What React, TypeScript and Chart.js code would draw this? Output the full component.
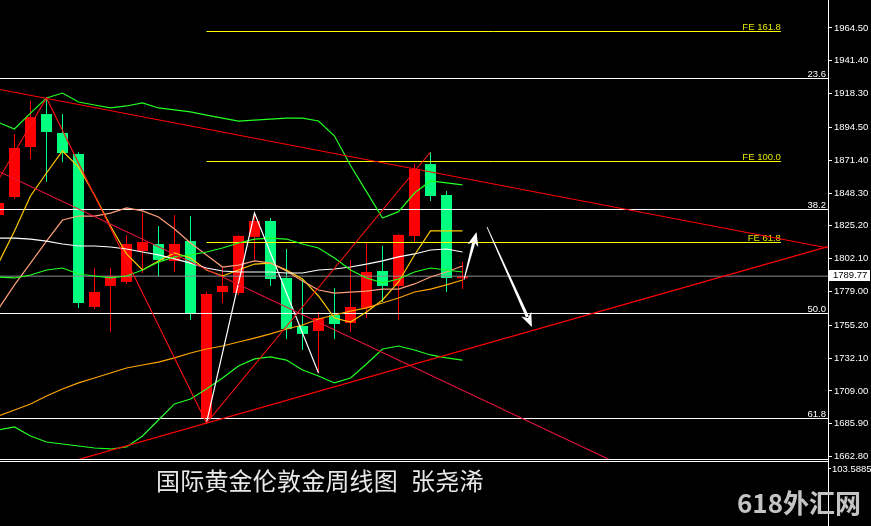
import React, { useEffect, useRef } from 'react';
import { Chart, registerables } from 'chart.js';

Chart.register(...registerables);

// ---- weekly candles (index -1 .. 28) ----
const candleIndex = [-1, 0, 1, 2, 3, 4, 5, 6, 7, 8, 9, 10, 11, 12, 13, 14, 15, 16, 17, 18, 19, 20, 21, 22, 23, 24, 25, 26, 27, 28];
const opens = [1832.8, 1845.5, 1880.7, 1903.9, 1890.6, 1875.8, 1768.1, 1782.9, 1785.7, 1807.5, 1812.4, 1800.4, 1814.5, 1689.9, 1778.6, 1777.9, 1817.4, 1828.6, 1788.5, 1754.7, 1751.2, 1762.4, 1756.8, 1767.4, 1793.4, 1782.9, 1818.1, 1868.7, 1846.9, 1788.3];
const highs = [1843.5, 1889.9, 1913.1, 1915.2, 1903.9, 1877.0, 1795.5, 1795.5, 1818.8, 1834.2, 1825.1, 1832.8, 1832.1, 1779.0, 1796.2, 1818.8, 1834.2, 1830.7, 1808.9, 1787.8, 1764.5, 1781.4, 1801.2, 1813.1, 1811.0, 1819.5, 1868.7, 1877.2, 1849.7, 1799.7];
const lows = [1830.0, 1844.1, 1872.3, 1856.1, 1870.2, 1767.4, 1766.7, 1750.5, 1784.3, 1792.0, 1789.9, 1792.7, 1758.9, 1686.4, 1770.9, 1776.5, 1801.9, 1782.9, 1745.5, 1737.8, 1721.6, 1745.5, 1750.5, 1760.3, 1771.6, 1758.9, 1813.1, 1842.7, 1778.6, 1780.7];
const closes = [1841.3, 1880.0, 1901.8, 1891.3, 1876.5, 1770.9, 1778.6, 1789.9, 1812.4, 1813.8, 1801.2, 1812.4, 1763.8, 1777.2, 1782.9, 1818.1, 1828.6, 1787.8, 1752.6, 1749.1, 1760.3, 1756.1, 1768.1, 1792.7, 1782.9, 1818.8, 1865.2, 1846.2, 1788.5, 1789.77];

// ---- indicators ----
const bbUpper = [1898.0, 1893.4, 1904.6, 1915.2, 1918.7, 1912.4, 1910.3, 1908.2, 1909.6, 1911.7, 1908.2, 1906.8, 1905.4, 1903.2, 1901.1, 1899.0, 1899.7, 1900.4, 1901.1, 1901.1, 1899.0, 1888.4, 1867.7, 1849.3, 1830.7, 1835.2, 1848.3, 1856.8, 1855.4, 1854.0];
const bbMiddle = [1789.2, 1788.5, 1790.6, 1794.1, 1795.5, 1791.3, 1789.9, 1788.5, 1789.9, 1794.1, 1799.7, 1803.3, 1804.7, 1806.8, 1809.6, 1813.1, 1815.9, 1816.6, 1815.9, 1812.4, 1809.6, 1802.6, 1794.1, 1788.5, 1785.0, 1787.8, 1792.7, 1795.5, 1794.1, 1792.7];
const bbLower = [1681.5, 1683.6, 1677.2, 1673.0, 1671.6, 1670.2, 1668.8, 1668.1, 1669.5, 1677.2, 1688.5, 1699.8, 1703.3, 1710.3, 1718.1, 1726.5, 1731.5, 1732.9, 1730.7, 1723.7, 1719.5, 1714.6, 1718.1, 1727.9, 1738.5, 1740.6, 1737.8, 1734.3, 1732.2, 1730.7];
const maWhite = [1816.6, 1816.6, 1815.9, 1814.5, 1812.4, 1811.0, 1811.0, 1810.3, 1808.9, 1806.8, 1804.7, 1801.9, 1799.0, 1795.5, 1793.4, 1792.7, 1792.7, 1792.7, 1792.0, 1792.0, 1794.1, 1794.8, 1796.2, 1798.3, 1800.5, 1803.3, 1805.4, 1808.2, 1808.9, 1806.8];
const maSalmon = [1766.7, 1783.6, 1799.0, 1814.5, 1829.3, 1832.1, 1832.1, 1834.2, 1837.8, 1835.7, 1831.4, 1823.0, 1813.1, 1804.7, 1796.2, 1797.6, 1800.5, 1799.0, 1793.4, 1786.4, 1780.0, 1777.9, 1778.6, 1779.3, 1780.7, 1780.7, 1784.3, 1789.2, 1792.7, 1796.9];
const maOrange = [1691.3, 1695.5, 1699.8, 1705.4, 1710.3, 1714.6, 1718.1, 1721.6, 1725.1, 1727.2, 1729.3, 1732.2, 1735.7, 1738.5, 1740.6, 1743.4, 1746.2, 1749.1, 1752.6, 1755.4, 1759.6, 1762.4, 1765.2, 1767.4, 1770.9, 1774.4, 1778.6, 1780.7, 1783.6, 1787.1];
const maYellow = [1799.0, 1821.6, 1846.2, 1862.4, 1877.9, 1866.6, 1846.9, 1825.1, 1805.4, 1794.1, 1800.5, 1806.1, 1802.6, 1794.1, 1789.9, 1794.1, 1798.3, 1799.0, 1794.1, 1787.8, 1775.8, 1760.3, 1757.5, 1764.5, 1773.0, 1785.7, 1804.7, 1821.6, 1821.6, 1821.6];

// ---- zigzags & trend lines (index, price) ----
const zigRedIdx = [-3, 2, 12, 26];
const zigRedVal = [1819.5, 1915.2, 1686.4, 1877.2];
const zigWhiteIdx = [12, 15, 19];
const zigWhiteVal = [1686.4, 1834.2, 1721.6];
const trendUpperIdx = [-0.906, 50.84];
const trendUpperVal = [1921.2, 1809.6];
const trendLowerIdx = [-0.906, 50.84];
const trendLowerVal = [1645.0, 1810.6];
const channelIdx = [-0.906, 50.84];
const channelVal = [1863.1, 1588.0];

// ---- levels ----
const fibLabels = ['23.6', '38.2', '50.0', '61.8'];
const fibValues = [1928.94, 1836.71, 1763.49, 1689.55];
const feLabels = ['FE 161.8', 'FE 100.0', 'FE 61.8'];
const feValues = [1962.03, 1870.5, 1813.47];
const feStartIdx = 12;
const feEndIdx = 47.9;
const lastPrice = 1789.77;
const subPanelLabel = '103.5885';

// ---- arrows ----
const arrowFromIdx = [28.09, 29.53];
const arrowFromVal = [1787.1, 1824.38];
const arrowToIdx = [28.875, 32.34];
const arrowToVal = [1820.86, 1753.98];

// ---- axis ----
const tickValues = [1964.5, 1941.4, 1918.3, 1894.5, 1871.4, 1848.3, 1825.2, 1802.1, 1779.0, 1755.2, 1732.1, 1709.0, 1685.9, 1662.8];
const yMax = 1984.21;
const yMin = 1661.04;
const xMin = -0.90625;
const xMax = 50.84375;

const TITLE_MAIN = '国际黄金伦敦金周线图';
const TITLE_AUTHOR = '张尧浠';
const WATERMARK = '618外汇网';

const FONT_FAMILY = '"Liberation Sans", Arial, sans-serif';
const AXIS_FONT = '9.5px ' + FONT_FAMILY;

function drawArrow(ctx: CanvasRenderingContext2D, x1: number, y1: number, x2: number, y2: number) {
  const ang = Math.atan2(y2 - y1, x2 - x1);
  const len = Math.hypot(x2 - x1, y2 - y1);
  const headLen = 14;
  const headW = 5.5;
  ctx.save();
  ctx.translate(x1, y1);
  ctx.rotate(ang);
  ctx.fillStyle = '#ffffff';
  ctx.beginPath();
  ctx.moveTo(0, -0.4);
  ctx.lineTo(len - headLen + 3, -1.6);
  ctx.lineTo(len - headLen + 3, 1.6);
  ctx.lineTo(0, 0.4);
  ctx.closePath();
  ctx.fill();
  ctx.beginPath();
  ctx.moveTo(len, 0);
  ctx.lineTo(len - headLen, -headW);
  ctx.lineTo(len - headLen + 4, 0);
  ctx.lineTo(len - headLen, headW);
  ctx.closePath();
  ctx.fill();
  ctx.restore();
}

const overlayPlugin = {
  id: 'overlayPlugin',
  beforeDatasetsDraw(chart: any) {
    const { ctx, scales, chartArea } = chart;
    const x = scales.x;
    const y = scales.y;
    ctx.save();
    ctx.font = AXIS_FONT;
    ctx.textAlign = 'right';
    ctx.textBaseline = 'alphabetic';
    fibLabels.forEach((t, i) => {
      const py = y.getPixelForValue(fibValues[i]);
      ctx.fillStyle = '#ffffff';
      ctx.fillText(t, chartArea.right - 2, Math.floor(py) - 1);
    });
    feLabels.forEach((t, i) => {
      const py = y.getPixelForValue(feValues[i]);
      ctx.fillStyle = '#e6e600';
      ctx.fillText(t, x.getPixelForValue(feEndIdx), Math.floor(py) - 1);
    });
    ctx.restore();
  },
  afterDatasetsDraw(chart: any) {
    const { ctx, scales } = chart;
    const x = scales.x;
    const y = scales.y;
    arrowFromIdx.forEach((_, i) => {
      drawArrow(
        ctx,
        x.getPixelForValue(arrowFromIdx[i]),
        y.getPixelForValue(arrowFromVal[i]),
        x.getPixelForValue(arrowToIdx[i]),
        y.getPixelForValue(arrowToVal[i])
      );
    });
  },
  afterDraw(chart: any) {
    const { ctx, chartArea, scales, height } = chart;
    const y = scales.y;
    ctx.save();
    ctx.fillStyle = '#ffffff';
    const b = Math.round(chartArea.bottom);
    const r = Math.round(chartArea.right);
    ctx.fillRect(0, b, r, 1);
    ctx.fillRect(0, b + 2, r, 1);
    ctx.fillRect(r, 0, 1, height);
    // current price box
    const py = y.getPixelForValue(lastPrice);
    ctx.fillRect(r + 1, Math.round(py) - 6, 41, 11);
    ctx.fillStyle = '#000000';
    ctx.font = AXIS_FONT;
    ctx.textAlign = 'left';
    ctx.textBaseline = 'middle';
    ctx.fillText(lastPrice.toFixed(2), r + 5, Math.round(py) - 0.5);
    // sub panel label
    ctx.fillStyle = '#ffffff';
    ctx.fillText(subPanelLabel, r + 4, b + 10);
    ctx.fillRect(r, b + 9, 3, 1);
    ctx.restore();
  },
};

function lineDs(label: string, data: { x: number; y: number }[], color: string, order = 1, width = 1) {
  return {
    type: 'line' as const,
    label,
    data,
    borderColor: color,
    backgroundColor: color,
    borderWidth: width,
    pointRadius: 0,
    tension: 0,
    fill: false,
    order,
  };
}

const series = (vals: number[]) => vals.map((v, i) => ({ x: candleIndex[i], y: v }));
const pairs = (idx: number[], vals: number[]) => idx.map((v, i) => ({ x: v, y: vals[i] }));

export default function App() {
  const canvasRef = useRef<HTMLCanvasElement | null>(null);

  useEffect(() => {
    if (!canvasRef.current) return;
    const up = candleIndex.map((_, i) => closes[i] >= opens[i]);
    const colors = up.map((u) => (u ? '#ff0000' : '#00ff7f'));

    const datasets: any[] = [];
    // levels
    fibValues.forEach((v, i) =>
      datasets.push(lineDs('fib ' + fibLabels[i], [{ x: xMin - 1, y: v }, { x: xMax + 1, y: v }], '#ffffff', 3))
    );
    feValues.forEach((v, i) =>
      datasets.push(lineDs(feLabels[i], [{ x: feStartIdx, y: v }, { x: feEndIdx, y: v }], '#ffff00', 3))
    );
    datasets.push(lineDs('last', [{ x: xMin - 1, y: lastPrice }, { x: xMax + 1, y: lastPrice }], '#8c8c96', 4));
    // indicators
    datasets.push(lineDs('BB upper', series(bbUpper), '#22ff22', 2, 1.2));
    datasets.push(lineDs('BB middle', series(bbMiddle), '#22ff22', 2, 1.2));
    datasets.push(lineDs('BB lower', series(bbLower), '#22ff22', 2, 1.2));
    datasets.push(lineDs('MA white', series(maWhite), '#ffffff', 2, 1.2));
    datasets.push(lineDs('MA salmon', series(maSalmon), '#ffa07a', 2, 1.2));
    datasets.push(lineDs('MA orange', series(maOrange), '#ffa500', 2, 1.2));
    datasets.push(lineDs('MA yellow', series(maYellow), '#ffcc00', 2, 1.2));
    // zigzags & trend lines
    datasets.push(lineDs('trend upper', pairs(trendUpperIdx, trendUpperVal), '#ff0000', 1, 1.2));
    datasets.push(lineDs('trend lower', pairs(trendLowerIdx, trendLowerVal), '#ff0000', 1, 1.2));
    datasets.push(lineDs('channel', pairs(channelIdx, channelVal), '#e8143c', 1, 1.1));
    datasets.push(lineDs('zigzag red', pairs(zigRedIdx, zigRedVal), '#ff1010', 1, 1.1));
    datasets.push(lineDs('zigzag white', pairs(zigWhiteIdx, zigWhiteVal), '#ffffff', 1, 1.2));
    // candles
    datasets.push({
      type: 'bar',
      label: 'wicks',
      data: candleIndex.map((k, i) => ({ x: k, y: [lows[i], highs[i]] })),
      backgroundColor: colors,
      borderWidth: 0,
      barThickness: 1,
      grouped: false,
      inflateAmount: 0,
      order: 20,
    });
    datasets.push({
      type: 'bar',
      label: 'bodies',
      data: candleIndex.map((k, i) => ({ x: k, y: [Math.min(opens[i], closes[i]), Math.max(opens[i], closes[i])] })),
      backgroundColor: colors,
      borderWidth: 0,
      barThickness: 11,
      grouped: false,
      inflateAmount: 0,
      minBarLength: 2,
      order: 19,
    });

    const chart = new Chart(canvasRef.current, {
      type: 'line',
      data: { datasets },
      options: {
        responsive: false,
        animation: false,
        devicePixelRatio: 1,
        events: [],
        layout: { padding: { left: 0, right: 0, top: 0, bottom: 67 } },
        plugins: { legend: { display: false }, tooltip: { enabled: false }, title: { display: false } },
        scales: {
          x: { type: 'linear', display: false, min: xMin, max: xMax, offset: false },
          y: {
            type: 'linear',
            position: 'right',
            min: yMin,
            max: yMax,
            afterBuildTicks: (s: any) => {
              s.ticks = tickValues.map((v) => ({ value: v }));
            },
            afterFit: (s: any) => {
              s.width = 43;
              s.paddingTop = 0;
              s.paddingBottom = 0;
            },
            ticks: {
              color: '#ffffff',
              font: { family: FONT_FAMILY, size: 9.5 },
              padding: 2,
              autoSkip: false,
              callback: (v: any) => Number(v).toFixed(2),
            },
            grid: { drawOnChartArea: false, drawTicks: true, tickLength: 4, color: '#ffffff' },
            border: { display: true, color: '#ffffff', width: 1 },
          },
        },
      } as any,
      plugins: [overlayPlugin],
    } as any);
    return () => chart.destroy();
  }, []);

  return (
    <div style={{ position: 'fixed', left: 0, top: 0, width: 871, height: 526, background: '#000', overflow: 'hidden' }}>
      <canvas ref={canvasRef} width={871} height={526} style={{ position: 'absolute', left: 0, top: 0, width: 871, height: 526 }} />
      <div
        style={{
          position: 'absolute',
          left: 156,
          top: 468,
          fontFamily: '"Noto Sans CJK SC", sans-serif',
          fontSize: 24,
          lineHeight: '24px',
          letterSpacing: '0.2px',
          color: '#e8e8e8',
          whiteSpace: 'pre',
        }}
      >
        {TITLE_MAIN}
        <span style={{ marginLeft: 13 }}>{TITLE_AUTHOR}</span>
      </div>
      <div
        style={{
          position: 'absolute',
          left: 737,
          top: 487,
          fontFamily: '"Noto Sans CJK SC", sans-serif',
          fontSize: 26,
          fontWeight: 700,
          lineHeight: '30px',
          color: '#c4c4c4',
          whiteSpace: 'pre',
        }}
      >
        {WATERMARK}
      </div>
    </div>
  );
}
